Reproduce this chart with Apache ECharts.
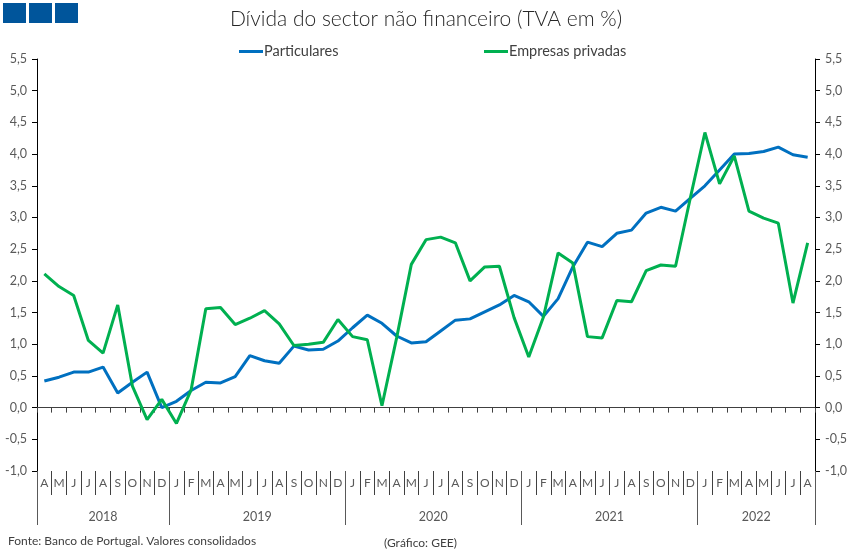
<!DOCTYPE html>
<html>
<head>
<meta charset="utf-8">
<title>Dívida do sector não financeiro</title>
<script src="https://cdn.jsdelivr.net/npm/echarts@6/dist/echarts.min.js"></script>
<style>
  html, body { margin: 0; padding: 0; background: #fff; }
  #chart { width: 852px; height: 555px; }
</style>
</head>
<body>
<div id="chart"></div>
<script>
// meses (Abr 2018 - Ago 2022)
var mesesAno = ['J', 'F', 'M', 'A', 'M', 'J', 'J', 'A', 'S', 'O', 'N', 'D'];
var meses = mesesAno.slice(3)
  .concat(mesesAno, mesesAno, mesesAno)
  .concat(mesesAno.slice(0, 8));

var anos = ['2018', '2019', '2020', '2021', '2022'];
var anosCentro = [4.5, 15, 27, 39, 49];
var anosLimites = [0, 9, 21, 33, 45, 53];

var particulares = [
  0.42, 0.48, 0.56, 0.56, 0.64, 0.23, 0.40, 0.56, 0.00,
  0.10, 0.27, 0.40, 0.39, 0.49, 0.82, 0.74, 0.70, 0.97, 0.91, 0.92, 1.05, 1.26,
  1.46, 1.33, 1.13, 1.02, 1.04, 1.21, 1.38, 1.40, 1.51, 1.62, 1.77, 1.67,
  1.44, 1.72, 2.22, 2.61, 2.54, 2.75, 2.80, 3.07, 3.16, 3.10, 3.30, 3.50,
  3.75, 4.00, 4.01, 4.04, 4.11, 3.99, 3.95
];

var empresas = [
  2.11, 1.91, 1.77, 1.06, 0.86, 1.62, 0.34, -0.19, 0.13,
  -0.25, 0.28, 1.56, 1.58, 1.31, 1.41, 1.53, 1.32, 0.98, 1.00, 1.03, 1.39,
  1.12, 1.07, 0.03, 1.10, 2.26, 2.65, 2.69, 2.60, 2.00, 2.22, 2.23,
  1.42, 0.80, 1.43, 2.44, 2.28, 1.12, 1.10, 1.69, 1.67, 2.16, 2.25, 2.23,
  3.30, 4.34, 3.53, 3.97, 3.10, 2.99, 2.91, 1.65, 2.60
];

var fonte = 'Fonte: Banco de Portugal. Valores consolidados';
var grafico = '(Gráfico: GEE)';

var fonteTexto = 'Lato, "Open Sans", sans-serif';

function virgula(v) {
  return v.toFixed(1).replace('.', ',');
}

var eixoY = function (pos) {
  return {
    type: 'value',
    position: pos,
    min: -1,
    max: 5.5,
    interval: 0.5,
    axisLine: { show: true, lineStyle: { color: '#000', width: 1 } },
    axisTick: { show: true, length: 5, lineStyle: { color: '#000' } },
    splitLine: { show: false },
    axisLabel: {
      color: '#595959',
      fontFamily: fonteTexto,
      fontSize: 12.5,
      margin: 10,
      formatter: virgula
    }
  };
};

var myChart = echarts.init(document.getElementById('chart'));

var option = {
  animation: false,
  textStyle: { fontFamily: fonteTexto },
  title: {
    text: 'Dívida do sector não financeiro (TVA em %)',
    left: 'center',
    top: 4,
    textStyle: { fontSize: 21, fontWeight: 300, color: '#262626', fontFamily: fonteTexto }
  },
  legend: [
    {
      data: ['Particulares'],
      left: 234,
      top: 39,
      icon: 'rect',
      itemWidth: 24,
      itemHeight: 3,
      itemGap: 3,
      textStyle: { color: '#404040', fontSize: 14.5, padding: [0, 0, 0, -4] }
    },
    {
      data: ['Empresas privadas'],
      left: 479,
      top: 39,
      icon: 'rect',
      itemWidth: 24,
      itemHeight: 3,
      textStyle: { color: '#404040', fontSize: 14.5, padding: [0, 0, 0, -4] }
    }
  ],
  grid: { left: 37, right: 37, top: 59, bottom: 84, containLabel: false },
  xAxis: [
    {
      // meses
      type: 'category',
      data: meses,
      position: 'bottom',
      boundaryGap: true,
      axisLine: { show: false, onZero: false },
      axisTick: { show: true, interval: 0, length: 24, lineStyle: { color: '#404040' } },
      axisLabel: { interval: 0, margin: 6, color: '#595959', fontSize: 12, fontFamily: fonteTexto }
    },
    {
      // linha do zero
      type: 'category',
      data: meses,
      position: 'bottom',
      boundaryGap: true,
      axisLine: { show: true, onZero: true, lineStyle: { color: '#404040' } },
      axisTick: { show: true, interval: 0, length: 5, lineStyle: { color: '#404040' } },
      axisLabel: { show: false }
    },
    {
      // anos
      type: 'value',
      min: 0,
      max: 53,
      position: 'bottom',
      axisLine: { show: false, onZero: false },
      splitLine: { show: false },
      axisTick: {
        show: true,
        length: 54,
        customValues: anosLimites,
        lineStyle: { color: '#595959' }
      },
      axisLabel: {
        show: true,
        margin: 39,
        customValues: anosCentro,
        color: '#595959',
        fontSize: 12.5,
        fontFamily: fonteTexto,
        formatter: function (v) {
          return anos[anosCentro.indexOf(v)];
        }
      }
    }
  ],
  yAxis: [eixoY('left'), eixoY('right')],
  series: [
    {
      name: 'Particulares',
      type: 'line',
      xAxisIndex: 0,
      yAxisIndex: 0,
      data: particulares,
      symbol: 'none',
      itemStyle: { color: '#0070C0' },
      lineStyle: { color: '#0070C0', width: 3 }
    },
    {
      name: 'Empresas privadas',
      type: 'line',
      xAxisIndex: 0,
      yAxisIndex: 0,
      data: empresas,
      symbol: 'none',
      itemStyle: { color: '#00B050' },
      lineStyle: { color: '#00B050', width: 3 }
    }
  ],
  graphic: [
    { type: 'rect', left: 3, top: 3, shape: { width: 23, height: 20 }, style: { fill: '#00559B' } },
    { type: 'rect', left: 29, top: 3, shape: { width: 23, height: 20 }, style: { fill: '#00559B' } },
    { type: 'rect', left: 55, top: 3, shape: { width: 23, height: 20 }, style: { fill: '#00559B' } },
    {
      type: 'text', left: 8, top: 535,
      style: { text: fonte, fill: '#404040', font: '12px ' + fonteTexto }
    },
    {
      type: 'text', left: 384, top: 537,
      style: { text: grafico, fill: '#404040', font: '12px ' + fonteTexto }
    }
  ]
};

myChart.setOption(option);
window.onresize = function () {
  myChart.resize();
};
</script>
</body>
</html>
